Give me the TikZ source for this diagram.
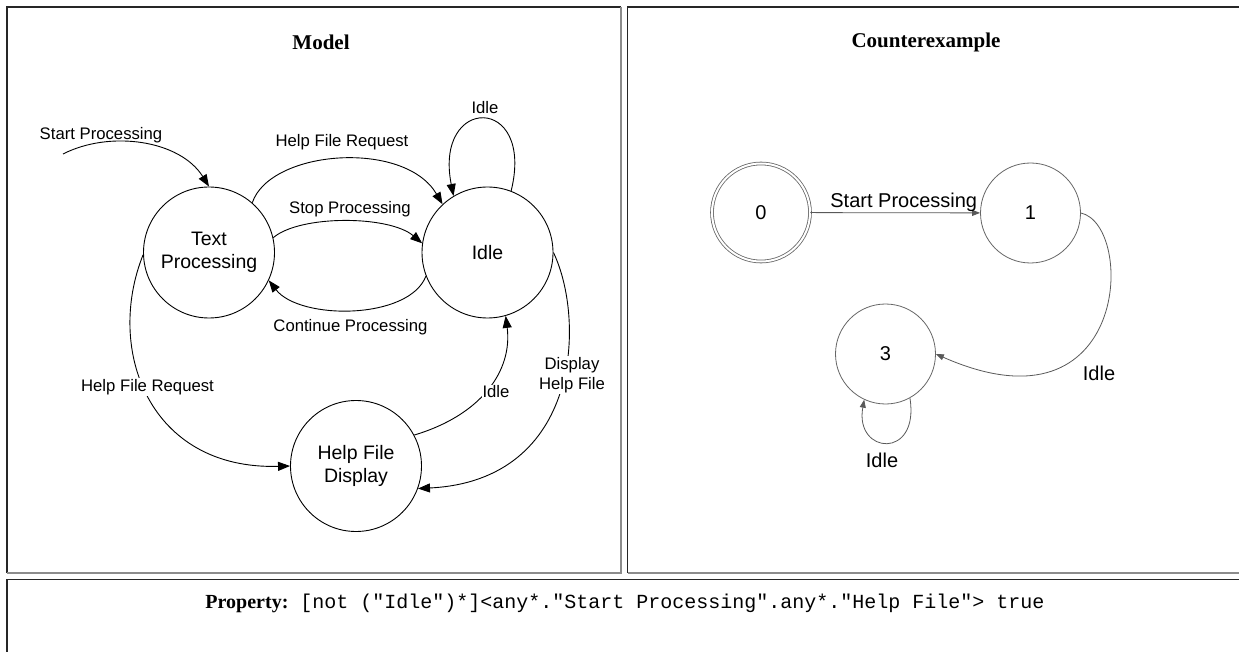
\documentclass[tikz,border=0pt]{standalone}
\usepackage{fontspec}
\setmainfont{Liberation Serif}
\setsansfont{Liberation Sans}
\setmonofont{Liberation Mono}
\usetikzlibrary{arrows.meta}

\begin{document}
\begin{tikzpicture}[x=1pt, y=-1pt,
    state/.style={circle, draw, line width=0.9pt, minimum size=131pt, inner sep=0pt,
      align=center, font=\sffamily\fontsize{19.5}{23}\selectfont},
    trans/.style={line width=0.9pt, -{Triangle[length=12pt,width=9pt]}},
    lbl/.style={inner sep=1pt, align=center, font=\sffamily\fontsize{16.7}{20}\selectfont},
    cstate/.style={circle, draw=black!60, line width=0.8pt, minimum size=100pt, inner sep=0pt,
      font=\sffamily\fontsize{20}{24}\selectfont},
    ctrans/.style={draw=black!65, line width=0.8pt, -{Triangle[length=8pt,width=6pt]}},
    clbl/.style={inner sep=1pt, font=\sffamily\fontsize{20}{24}\selectfont},
    title/.style={font=\bfseries\fontsize{21}{25}\selectfont}]
  \useasboundingbox (0,0) rectangle (1239,652);

  % frames
  \draw[black!85, line width=1.3pt] (7,573) -- (7,7) -- (621,7);
  \draw[black!45, line width=2.5pt] (7,573) -- (621,573) -- (621,7);
  \draw[black!85, line width=1.3pt] (627.5,573) -- (627.5,7) -- (1250,7);
  \draw[black!45, line width=2.5pt] (627.5,573) -- (1250,573);
  \draw[black!85, line width=1.3pt] (7,660) -- (7,579.5) -- (1250,579.5);

  \node[title] (modeltitle) at (321,42) {Model};
  \node[title] (cextitle) at (926,42) {Counterexample};

  % model
  \node[state] (textproc) at (209,252.5) {Text\\Processing};
  \node[state] (idle) at (487.5,252.5) {Idle};
  \node[state] (helpdisp) at (356,466) {Help File\\Display};
  \coordinate (init) at (63,154);

  \draw[trans] (init) .. controls +(47,-24) and +(-29,-46.5) .. (textproc.north);
  \draw[trans] (textproc.49) .. controls +(18,-53) and +(-38,-65) .. (idle.133);
  \draw[trans] (idle.69) .. controls +(24,-97) and +(-20,-101) .. (idle.121);
  \draw[trans] (textproc.13) .. controls +(27,-23) and +(-33,-28) .. (idle.172);
  \draw[trans] (idle.201) .. controls +(-17,44) and +(31,40) .. (textproc.335);
  \draw[trans] (textproc.182) .. controls +(-38,95) and +(-141,4) .. (helpdisp.west);
  \draw[trans] (helpdisp.28) .. controls +(67,-20) and +(7,55) .. (idle.286);
  \draw[trans] (idle.east) .. controls +(32,67) and +(163,-8) .. (helpdisp.340);

  \node[lbl] (l1) at (101,135) {Start Processing};
  \node[lbl] (l2) at (342,142) {Help File Request};
  \node[lbl] (l3) at (485,108) {Idle};
  \node[lbl] (l4) at (350,209) {Stop Processing};
  \node[lbl] (l5) at (350.5,327) {Continue Processing};
  \node[lbl, fill=white] (l6) at (147.5,387) {Help File Request};
  \node[lbl, fill=white] (l7) at (496,392) {Idle};
  \node[lbl, fill=white] (l8) at (572,375) {Display\\Help File};

  % counterexample
  \node[cstate, double, double distance=2pt, minimum size=98pt] (q0) at (761,212.5) {0};
  \node[cstate] (q1) at (1030.5,213) {1};
  \node[cstate] (q3) at (885.5,354) {3};

  \draw[ctrans] (q0) -- node[clbl, above, pos=0.55] {Start Processing} (q1);
  \draw[ctrans] (q1.east) .. controls +(54.5,12) and +(194.5,86) .. (q3.east);
  \draw[ctrans] (q3.-61) .. controls +(10,62) and +(-10,55) .. (q3.245);
  \node[clbl] (c1) at (1099,373) {Idle};
  \node[clbl] (c2) at (882,460) {Idle};

  % property
  \node[font=\fontsize{20}{24}\selectfont] (prop) at (625,603)
    {\textbf{Property:}\hspace{12pt}\texttt{[not ("Idle")*]<any*."Start Processing".any*."Help File"> true}};
\end{tikzpicture}
\end{document}
